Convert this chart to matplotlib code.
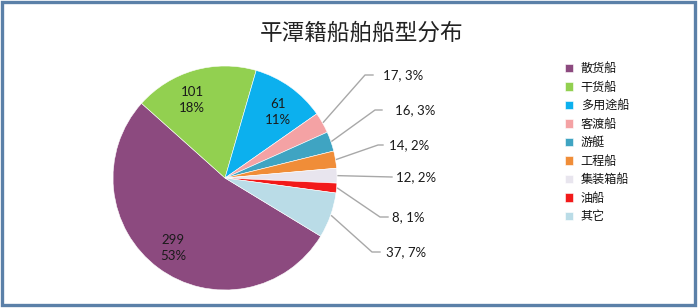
import numpy as np
import matplotlib
matplotlib.use("Agg")
import matplotlib.pyplot as plt
from matplotlib.patches import Rectangle

plt.rcParams['font.family'] = ['Noto Sans CJK SC', 'DejaVu Sans']

# ---- data ----
categories = ['散货船', '干货船', '多用途船', '客渡船', '游艇', '工程船', '集装箱船', '油船', '其它']
counts = [299, 101, 61, 17, 16, 14, 12, 8, 37]
percent_labels = ['53%', '18%', '11%', '3%', '3%', '2%', '2%', '1%', '7%']
colors = ['#8C4A7F', '#92D050', '#0CB0EE', '#F4A2A4', '#3FA4C2', '#F08D38',
          '#E8E5EE', '#F21A1A', '#BADCE7']
title = '平潭籍船舶船型分布'

W, H = 698, 308
fig = plt.figure(figsize=(W / 100, H / 100), dpi=100)
ax = fig.add_axes([0, 0, 1, 1])

cx, cy, R = 225, 130, 112
start = -31.3
wedges, _ = ax.pie(counts, colors=colors, startangle=start, counterclock=False,
                   center=(cx, cy), radius=R, frame=False,
                   wedgeprops=dict(edgecolor='white', linewidth=0.4))
ax.set_xlim(0, W)
ax.set_ylim(0, H)
ax.set_aspect('equal')
ax.axis('off')

# inside labels (first three)
inside_pos = [(173, 60), (192, 208), (278, 196)]
for i, (x, y) in enumerate(inside_pos):
    ax.text(x, y, f'{counts[i]}\n{percent_labels[i]}', ha='center', va='center',
            fontsize=9.5, color='#1a1a1a', family=['Lato', 'DejaVu Sans'],
            linespacing=1.45)

# outside labels with leader lines
elbow = [(365, 233), (375, 198), (378, 163), (392, 131), (380, 91), (372, 56)]
elbow_end = [(373, 233), (382, 198), (383, 163), (392, 131), (388, 91), (380, 56)]
text_x = [383, 395, 389, 396, 392, 386]
for k, i in enumerate(range(3, 9)):
    w = wedges[i]
    mid = np.deg2rad((w.theta1 + w.theta2) / 2)
    sx = cx + R * 1.01 * np.cos(mid)
    sy = cy + R * 1.01 * np.sin(mid)
    ex, ey = elbow[k]
    fx, fy = elbow_end[k]
    ax.plot([sx, ex, fx], [sy, ey, fy], color='#A8A8A8', lw=1.0)
    ax.text(text_x[k], fy, f'{counts[i]}, {percent_labels[i]}', ha='left', va='center',
            fontsize=9.5, color='#1a1a1a', family=['Lato', 'DejaVu Sans'])

# title
ax.text(362, H - 33, title, ha='center', va='center', fontsize=16.3, color='#222222')

# legend
leg = ax.legend(wedges, categories, loc='upper left', bbox_to_anchor=(565 / W, 1 - 62 / H),
                bbox_transform=fig.transFigure, frameon=False, fontsize=8.7,
                handlelength=0.7, handleheight=0.7, handletextpad=0.6,
                labelspacing=0.46, borderaxespad=0, borderpad=0)
for t in leg.get_texts():
    t.set_color('#111111')

# frame
fig.patches.append(Rectangle((1.5 / W, 3.5 / H), 693.5 / W, 303 / H, transform=fig.transFigure,
                             fill=False, edgecolor='#5B80A8', linewidth=2.4))

fig.savefig('out.png', dpi=100)
